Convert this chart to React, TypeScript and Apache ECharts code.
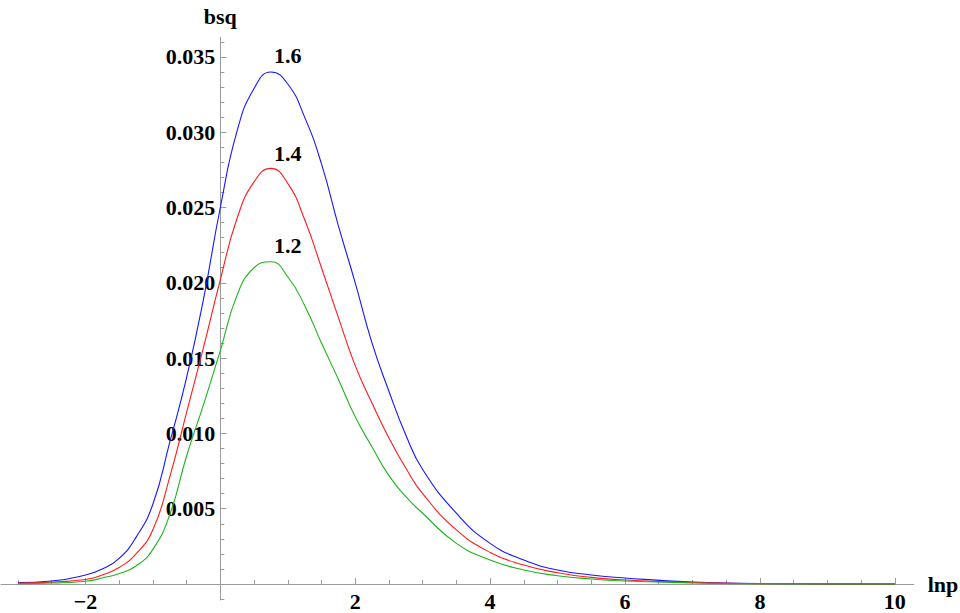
import React, { useEffect, useRef } from 'react';
import * as echarts from 'echarts';

// lnp sample points shared by the three curves
const lnp = [-3, -2.5, -2, -1.75, -1.5, -1.25, -1, -0.75, -0.5, -0.25, 0, 0.25, 0.5, 0.75, 1, 1.25, 1.5, 1.75, 2, 2.25, 2.5, 2.75, 3, 3.5, 4, 4.5, 5, 5.5, 6, 7, 8, 9, 10];

// bsq for each parameter value
const bsq16 = [0.0001, 0.0002, 0.0006, 0.001, 0.0017, 0.0031, 0.0053, 0.0094, 0.0137, 0.0189, 0.025, 0.0301, 0.0329, 0.034, 0.0332, 0.031, 0.0279, 0.0238, 0.02, 0.016, 0.0128, 0.0099, 0.0076, 0.0047, 0.0027, 0.0016, 0.00093, 0.0006, 0.0004, 0.00013, 0.00004, 0.00001, 0];
const bsq14 = [0.00006, 0.00013, 0.0003, 0.0006, 0.0011, 0.002, 0.0036, 0.0071, 0.0114, 0.0157, 0.0202, 0.0243, 0.0267, 0.0276, 0.0266, 0.0242, 0.021, 0.0177, 0.0145, 0.012, 0.0097, 0.0077, 0.006, 0.0036, 0.0021, 0.00126, 0.00075, 0.00044, 0.00027, 0.0001, 0.00003, 0.00001, 0];
const bsq12 = [0.00003, 0.00007, 0.00018, 0.0004, 0.0007, 0.0012, 0.0023, 0.0046, 0.0085, 0.0119, 0.0155, 0.0192, 0.021, 0.0214, 0.0204, 0.0185, 0.016, 0.0136, 0.0111, 0.0091, 0.0072, 0.0058, 0.0047, 0.0027, 0.0016, 0.00093, 0.00055, 0.00033, 0.0002, 0.00007, 0.00002, 0.00001, 0];

const curveNames = ['1.6', '1.4', '1.2'];
const curveValues = [bsq16, bsq14, bsq12];
const curveColors = ['#1515ff', '#ff1a1a', '#1cb41c'];
// where each curve's name is written
const nameAnchors = [[1.0, 0.0351], [1.0, 0.0286], [1.0, 0.0225]];

// tick labels
const xLabelValues = [-2, 2, 4, 6, 8, 10];
const yLabelValues = [0.005, 0.01, 0.015, 0.02, 0.025, 0.03, 0.035];

// axis ranges (axes cross at the origin)
const X_MIN = -3.25;
const X_MAX = 10.28;
const Y_MIN = -0.00106;
const Y_MAX = 0.0363;

const GRID_LEFT = 1.1;
const GRID_TOP = 37.3;
const GRID_W = 912.6;
const GRID_H = 562.7;

const AXIS_GREY = '#9a9a9a';
const FONT = '"Liberation Serif", "Times New Roman", serif';

function stepValues(from: number, to: number, step: number, skipEvery: number): number[] {
  const out: number[] = [];
  const n = Math.round((to - from) / step);
  for (let i = 0; i <= n; i++) {
    const v = +(from + i * step).toFixed(6);
    const k = Math.round(v / step);
    if (k % skipEvery !== 0) out.push(v);
  }
  return out;
}

const xMajorTicks = [-2, 2, 4, 6, 8, 10];
const xMinorTicks = stepValues(-3, 10, 0.5, 4);
const yMajorTicks = [0.005, 0.01, 0.015, 0.02, 0.025, 0.03, 0.035];
const yMinorTicks = stepValues(-0.001, 0.036, 0.001, 5);

const textStyle = { color: '#000', fontFamily: FONT, fontWeight: 'bold' as const, fontSize: 22 };

export default function App() {
  const ref = useRef<HTMLDivElement>(null);

  useEffect(() => {
    if (!ref.current) return;
    const chart = echarts.init(ref.current, undefined, { renderer: 'svg' });

    const xOffset = -((0 - Y_MIN) / (Y_MAX - Y_MIN)) * GRID_H;
    const yOffset = -((0 - X_MIN) / (X_MAX - X_MIN)) * GRID_W;

    const baseX = {
      type: 'value' as const,
      min: X_MIN,
      max: X_MAX,
      position: 'bottom' as const,
      offset: xOffset,
      splitLine: { show: false },
    };
    const baseY = {
      type: 'value' as const,
      min: Y_MIN,
      max: Y_MAX,
      position: 'left' as const,
      offset: yOffset,
      splitLine: { show: false },
    };

    const series = curveNames.map((name, i) => ({
      name,
      type: 'line' as const,
      xAxisIndex: 0,
      yAxisIndex: 0,
      data: lnp.map((x, j) => [x, curveValues[i][j]]),
      showSymbol: false,
      smooth: 0.5,
      lineStyle: { color: curveColors[i], width: 1.1 },
      itemStyle: { color: curveColors[i] },
      silent: true,
      markPoint: {
        silent: true,
        symbol: 'circle',
        symbolSize: 1,
        itemStyle: { color: 'rgba(0,0,0,0)' },
        label: { show: true, position: 'inside', formatter: name, ...textStyle },
        data: [{ coord: nameAnchors[i], value: name }],
      },
    }));

    chart.setOption({
      animation: false,
      backgroundColor: '#fff',
      grid: {
        left: GRID_LEFT,
        top: GRID_TOP,
        width: GRID_W,
        height: GRID_H,
        containLabel: false,
        outerBoundsMode: 'none',
      },
      xAxis: [
        {
          ...baseX,
          name: 'lnp',
          nameLocation: 'end',
          nameGap: 14,
          nameTextStyle: textStyle,
          axisLine: { show: true, onZero: false, lineStyle: { color: AXIS_GREY, width: 1 } },
          axisTick: { show: true, inside: true, length: 6, customValues: xMajorTicks, lineStyle: { color: AXIS_GREY } },
          axisLabel: {
            show: true,
            customValues: xLabelValues,
            margin: 6,
            formatter: (v: number) => (v < 0 ? '\u2212' + Math.abs(v) : String(v)),
            ...textStyle,
          },
        },
        {
          ...baseX,
          axisLine: { show: false, onZero: false },
          axisTick: { show: true, inside: true, length: 4, customValues: xMinorTicks, lineStyle: { color: AXIS_GREY } },
          axisLabel: { show: false },
        },
      ],
      yAxis: [
        {
          ...baseY,
          name: 'bsq',
          nameLocation: 'end',
          nameGap: 10,
          nameTextStyle: textStyle,
          axisLine: { show: true, onZero: false, lineStyle: { color: AXIS_GREY, width: 1 } },
          axisTick: { show: true, inside: true, length: 6, customValues: yMajorTicks, lineStyle: { color: AXIS_GREY } },
          axisLabel: {
            show: true,
            customValues: yLabelValues,
            margin: 5,
            formatter: (v: number) => v.toFixed(3),
            ...textStyle,
          },
        },
        {
          ...baseY,
          axisLine: { show: false, onZero: false },
          axisTick: { show: true, inside: true, length: 4, customValues: yMinorTicks, lineStyle: { color: AXIS_GREY } },
          axisLabel: { show: false },
        },
      ],
      series,
    });

    return () => chart.dispose();
  }, []);

  return (
    <div
      ref={ref}
      style={{ position: 'fixed', left: 0, top: 0, width: 960, height: 613, background: '#fff' }}
    />
  );
}
